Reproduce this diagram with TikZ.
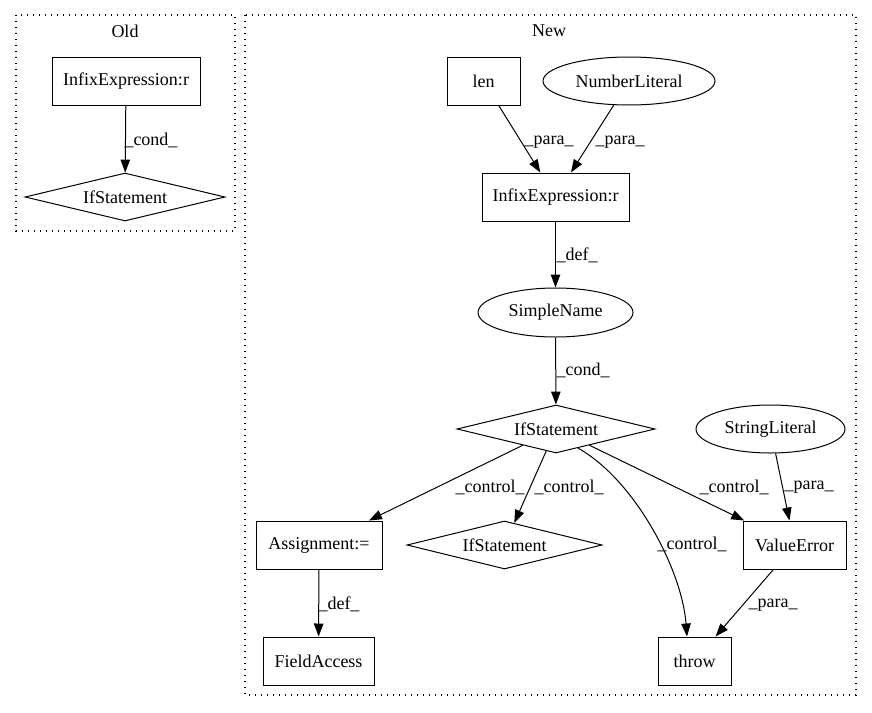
\documentclass[tikz,border=0pt]{standalone}
\usepackage{fontspec}
\setmainfont{Liberation Serif}
\usetikzlibrary{shapes.geometric,arrows.meta}
\begin{document}
\begin{tikzpicture}[x=1pt,y=-1pt,
  every node/.style={font=\fontsize{18}{20}\selectfont, inner sep=0pt},
  box/.style={draw, rectangle, line width=1pt},
  ell/.style={draw, ellipse, line width=1pt},
  dia/.style={draw, diamond, aspect=4, line width=1pt},
  arr/.style={draw, line width=1pt, -{Triangle[length=13pt,width=9.5pt]}},
  elabel/.style={},
  clusterbox/.style={draw, line width=1.2pt, dash pattern=on 1.2pt off 4.8pt},
]
\useasboundingbox (0,0) rectangle (872,712);

% clusters
\draw[clusterbox] (16,15) rectangle (235,231);
\node (oldlbl) at (125,31) {Old};
\draw[clusterbox] (245,15) rectangle (856,695);
\node (newlbl) at (549,31) {New};

% old
\node[box, minimum width=148pt, minimum height=48pt] (oldinfix) at (126,81) {InfixExpression:r};
\node[dia, minimum width=200pt, minimum height=48pt] (oldif) at (125,197) {IfStatement};
\draw[arr] (oldinfix) -- (oldif) node[elabel, at={(151,140)}] {\_cond\_};

% new
\node[box, minimum width=73pt, minimum height=48pt] (len) at (483.5,81) {len};
\node[ell, minimum width=172pt, minimum height=48pt] (numlit) at (629,81) {NumberLiteral};
\node[box, minimum width=147pt, minimum height=48pt] (newinfix) at (555.5,197) {InfixExpression:r};
\node[ell, minimum width=155pt, minimum height=49pt] (simple) at (555.5,312.5) {SimpleName};
\node[dia, minimum width=198pt, minimum height=48pt] (ifa) at (556,429) {IfStatement};
\node[ell, minimum width=149pt, minimum height=48pt] (strlit) at (770.5,429) {StringLiteral};
\node[box, minimum width=126pt, minimum height=48pt] (assign) at (319,545) {Assignment:=};
\node[dia, minimum width=195pt, minimum height=48pt] (ifb) at (504.5,545) {IfStatement};
\node[box, minimum width=103pt, minimum height=48pt] (valerr) at (794.5,545) {ValueError};
\node[box, minimum width=111pt, minimum height=48pt] (field) at (318.5,661) {FieldAccess};
\node[box, minimum width=73pt, minimum height=48pt] (throw) at (694.5,661) {throw};

\draw[arr] (len) -- (newinfix) node[elabel, at={(549,142)}] {\_para\_};
\draw[arr] (numlit) -- (newinfix) node[elabel, at={(620,142)}] {\_para\_};
\draw[arr] (newinfix) -- (simple) node[elabel, at={(577,255)}] {\_def\_};
\draw[arr] (simple) -- (ifa) node[elabel, at={(583,370)}] {\_cond\_};
\draw[arr] (ifa) -- (assign) node[elabel, at={(490,487)}] {\_control\_};
\draw[arr] (ifa) -- (ifb) node[elabel, at={(569,487)}] {\_control\_};
\draw[arr] (ifa) -- (valerr) node[elabel, at={(734,487)}] {\_control\_};
\draw[arr] (strlit) -- (valerr) node[elabel, at={(809,487)}] {\_para\_};
\draw[arr] (ifa.-41) .. controls (635,480) and (682,570) .. ([xshift=-7.5pt]throw.north) node[elabel, at={(692,544)}] {\_control\_};
\draw[arr] (assign) -- (field) node[elabel, at={(339,604)}] {\_def\_};
\draw[arr] (valerr) -- (throw) node[elabel, at={(773,605)}] {\_para\_};
\end{tikzpicture}
\end{document}
